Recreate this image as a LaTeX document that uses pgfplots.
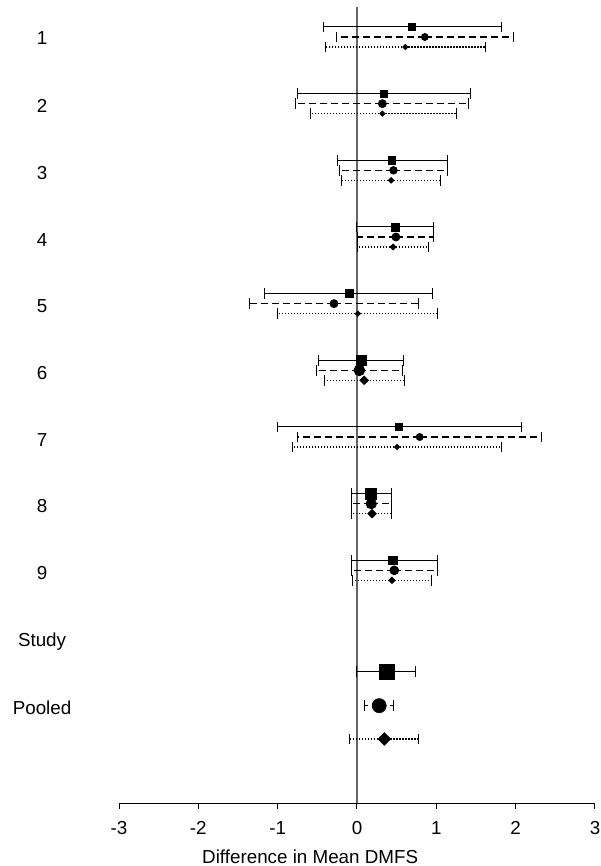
\documentclass[border=0pt]{standalone}
\usepackage{pgfplots}
\pgfplotsset{compat=1.18}
\usepackage{pgfplotstable}
\usepackage{fontspec}
\setmainfont{Liberation Sans}

% y = -(row), m = estimate, lo/hi = interval, s = mark size (pt)
\pgfplotstableread{
y      m      lo     hi    s
-0.85  0.69  -0.42  1.82  1.75
-1.85  0.34  -0.75  1.43  1.75
-2.85  0.44  -0.24  1.145 1.8
-3.85  0.485  0.00  0.97  2.0
-4.85 -0.096 -1.165 0.955 2.0
-5.85  0.055 -0.48  0.59  2.7
-6.85  0.53  -1.00  2.07  1.75
-7.85  0.18  -0.075 0.43  2.7
-8.85  0.455 -0.07  1.01  2.1
-10.52 0.375 -0.005 0.74  3.75
}\solidtab

\pgfplotstableread{
y      m      lo     hi    s
-1.00  0.855 -0.26  1.97  1.75
-2.00  0.32  -0.77  1.41  2.0
-3.00  0.46  -0.22  1.145 1.9
-4.00  0.49   0.01  0.97  2.0
-5.00 -0.29  -1.35  0.77  2.0
-6.00  0.03  -0.505 0.57  2.7
-7.00  0.79  -0.745 2.32  1.75
-8.00  0.18  -0.075 0.43  2.6
-9.00  0.47  -0.065 1.01  2.2
-11.03 0.28   0.09  0.455 3.5
}\dashtab

\pgfplotstableread{
y      m      lo     hi    s
-1.15  0.61  -0.40  1.62  1.3
-2.15  0.32  -0.59  1.25  1.3
-3.15  0.43  -0.19  1.05  1.4
-4.15  0.455  0.01  0.905 1.5
-5.15  0.01  -1.00  1.02  1.3
-6.15  0.09  -0.41  0.60  2.1
-7.15  0.505 -0.81  1.82  1.3
-8.15  0.19  -0.065 0.43  2.1
-9.15  0.44  -0.06  0.935 1.6
-11.53 0.345 -0.097 0.78  3.1
}\dottab

\pgfplotsset{
  fp/.style={
    only marks, scatter,
    scatter/use mapped color={draw=black, fill=black},
    visualization depends on={\thisrow{s}\as\msize},
    scatter/@pre marker code/.append style={/tikz/mark size=\msize},
    error bars/x dir=both, error bars/x explicit,
    error bars/error mark=|,
    error bars/error mark options={solid, black, mark size=2.6pt, line width=0.5pt},
  },
}
\tikzset{lab/.style={font=\fontsize{9.4}{11}\selectfont, anchor=center}}

\begin{document}
\begin{tikzpicture}
\begin{axis}[
  at={(59.5pt,31.5pt)}, anchor=south west,
  scale only axis, width=238pt, height=398pt,
  xmin=-3, xmax=3, ymin=-12.49, ymax=-0.55,
  axis x line=bottom, axis y line=none,
  axis line style={-, black, line width=0.5pt},
  xtick={-3,-2,-1,0,1,2,3},
  tick align=outside, major tick length=3pt,
  tick style={black, line width=0.5pt},
  /pgf/number format/assume math mode=true,
  ticklabel style={font=\fontsize{9.4}{11}\selectfont},
  xticklabel style={yshift=-2.5pt},
  clip=false,
]
\addplot[black!60, line width=0.6pt, mark=none] coordinates {(0,-0.55) (0,-12.49)};

\addplot[fp, mark=square*,
  error bars/error bar style={black, line width=0.5pt, solid}]
  table[x=m, y=y, x error plus expr=\thisrow{hi}-\thisrow{m}, x error minus expr=\thisrow{m}-\thisrow{lo}] {\solidtab};

\addplot[fp, mark=*,
  error bars/error bar style={black, line width=0.6pt, dash pattern=on 3.5pt off 2pt}]
  table[x=m, y=y, x error plus expr=\thisrow{hi}-\thisrow{m}, x error minus expr=\thisrow{m}-\thisrow{lo}] {\dashtab};

\addplot[fp, mark=diamond*, mark options={xscale=1.35},
  error bars/error bar style={black, line width=0.7pt, dash pattern=on 0.6pt off 0.9pt}]
  table[x=m, y=y, x error plus expr=\thisrow{hi}-\thisrow{m}, x error minus expr=\thisrow{m}-\thisrow{lo}] {\dottab};

\node[lab] at (axis cs:-3.97,-1.02) {1};
\node[lab] at (axis cs:-3.97,-2.04) {2};
\node[lab] at (axis cs:-3.97,-3.04) {3};
\node[lab] at (axis cs:-3.97,-4.04) {4};
\node[lab] at (axis cs:-3.97,-5.04) {5};
\node[lab] at (axis cs:-3.97,-6.04) {6};
\node[lab] at (axis cs:-3.97,-7.04) {7};
\node[lab] at (axis cs:-3.97,-8.04) {8};
\node[lab] at (axis cs:-3.97,-9.04) {9};
\node[lab] at (axis cs:-3.97,-10.07) {Study};
\node[lab] at (axis cs:-3.97,-11.06) {Pooled};
\node[lab] at (axis cs:-0.59,-12.49) [yshift=-27pt] {Difference in Mean DMFS};
\end{axis}
\pgfresetboundingbox
\path[use as bounding box] (0,0) rectangle (300pt,433pt);
\end{tikzpicture}
\end{document}
